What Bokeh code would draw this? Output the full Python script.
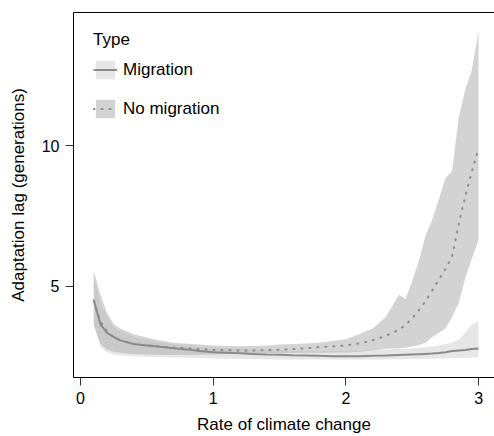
from bokeh.plotting import figure
from bokeh.models import Range1d, LinearAxis, FixedTicker, Legend, LegendItem
from bokeh.embed import file_html
from bokeh.resources import INLINE

rate = [0.10, 0.15, 0.20, 0.25, 0.30, 0.40, 0.50, 0.60, 0.70, 0.80, 0.90, 1.00,
        1.10, 1.20, 1.30, 1.40, 1.50, 1.60, 1.70, 1.80, 1.90, 2.00, 2.10, 2.20,
        2.30, 2.40, 2.45, 2.50, 2.55, 2.60, 2.65, 2.70, 2.75, 2.80, 2.85, 2.90,
        2.95, 3.00]

mig_mean = [4.50, 3.65, 3.35, 3.20, 3.08, 2.95, 2.90, 2.85, 2.80, 2.76, 2.70, 2.66,
            2.64, 2.62, 2.60, 2.58, 2.57, 2.55, 2.54, 2.53, 2.52, 2.52, 2.52, 2.53,
            2.54, 2.56, 2.57, 2.58, 2.59, 2.60, 2.61, 2.63, 2.66, 2.70, 2.72, 2.74,
            2.77, 2.79]
mig_upper = [5.30, 4.40, 3.90, 3.55, 3.40, 3.20, 3.10, 3.00, 2.94, 2.90, 2.86, 2.83,
             2.80, 2.78, 2.76, 2.74, 2.72, 2.71, 2.70, 2.70, 2.70, 2.70, 2.72, 2.74,
             2.76, 2.78, 2.78, 2.80, 2.82, 2.84, 2.86, 2.90, 2.95, 3.00, 3.10, 3.35,
             3.65, 3.76]
mig_lower = [3.70, 2.85, 2.65, 2.58, 2.55, 2.52, 2.50, 2.48, 2.47, 2.46, 2.45, 2.44,
             2.43, 2.42, 2.42, 2.41, 2.40, 2.40, 2.40, 2.40, 2.40, 2.40, 2.40, 2.40,
             2.40, 2.41, 2.41, 2.42, 2.42, 2.43, 2.43, 2.44, 2.44, 2.45, 2.45, 2.45,
             2.46, 2.47]

nomig_mean = [4.50, 3.75, 3.40, 3.20, 3.08, 2.95, 2.90, 2.86, 2.83, 2.80, 2.77, 2.74,
              2.73, 2.72, 2.72, 2.73, 2.75, 2.77, 2.80, 2.84, 2.87, 2.90, 2.97, 3.08,
              3.24, 3.46, 3.63, 3.87, 4.15, 4.47, 4.85, 5.24, 5.62, 6.06, 7.20, 8.20,
              9.10, 9.90]
nomig_upper = [5.55, 4.70, 4.05, 3.65, 3.50, 3.30, 3.18, 3.08, 3.00, 2.96, 2.93, 2.90,
               2.88, 2.87, 2.88, 2.90, 2.93, 2.95, 2.97, 3.00, 3.06, 3.12, 3.30, 3.50,
               3.90, 4.70, 4.55, 5.20, 5.90, 6.80, 7.36, 8.10, 8.85, 9.10, 11.00, 12.00,
               12.70, 14.10]
nomig_lower = [3.60, 2.95, 2.75, 2.68, 2.64, 2.60, 2.58, 2.57, 2.56, 2.56, 2.57, 2.58,
               2.60, 2.62, 2.63, 2.63, 2.63, 2.63, 2.64, 2.64, 2.65, 2.65, 2.68, 2.72,
               2.78, 2.80, 2.82, 2.86, 2.92, 3.00, 3.20, 3.35, 3.50, 3.90, 4.40, 5.30,
               6.00, 6.65]

x_ticks = [0, 1, 2, 3]
y_ticks = [5, 10]

FONT = "Liberation Sans"

p = figure(width=494, height=436, output_backend="svg", toolbar_location=None,
           x_range=Range1d(-0.053, 3.12), y_range=Range1d(1.76, 14.74),
           x_axis_location=None, y_axis_location=None,
           min_border_left=73, min_border_right=0, min_border_top=12,
           min_border_bottom=58)
p.outline_line_color = None
p.grid.visible = False
p.background_fill_color = "white"
p.border_fill_color = "white"

# bands
r_mig_band = p.varea(x=rate, y1=mig_lower, y2=mig_upper, fill_color="#b4b4b4",
                     fill_alpha=0.33)
r_nomig_band = p.varea(x=rate, y1=nomig_lower, y2=nomig_upper, fill_color="#b4b4b4",
                       fill_alpha=0.59)
r_mig_line = p.line(x=rate, y=mig_mean, line_color="#8a8a8a", line_width=2)
r_nomig_line = p.line(x=rate, y=nomig_mean, line_color="#8a8a8a", line_width=2,
                      line_dash="1 7", line_cap="round")

def style_axis(ax):
    ax.axis_line_color = "black"
    ax.axis_line_width = 1
    ax.major_tick_line_color = "#333333"
    ax.major_tick_line_width = 1
    ax.minor_tick_line_color = None
    ax.major_tick_in = 0
    ax.major_tick_out = 8
    ax.major_label_text_font = FONT
    ax.major_label_text_font_size = "16px"
    ax.major_label_text_color = "black"
    ax.axis_label_text_font = FONT
    ax.axis_label_text_font_size = "17px"
    ax.axis_label_text_font_style = "normal"
    ax.axis_label_text_color = "black"

xaxis = LinearAxis(ticker=FixedTicker(ticks=x_ticks), axis_label="Rate of climate change")
style_axis(xaxis)
xaxis.major_label_standoff = 6
xaxis.axis_label_standoff = 8
p.add_layout(xaxis, "below")

yaxis = LinearAxis(ticker=FixedTicker(ticks=y_ticks), axis_label="Adaptation lag (generations)")
style_axis(yaxis)
yaxis.major_label_standoff = 6
yaxis.axis_label_standoff = 11
yaxis.major_label_orientation = "horizontal"
p.add_layout(yaxis, "left")

top = LinearAxis(ticker=FixedTicker(ticks=[]))
top.axis_line_color = "black"
top.major_tick_line_color = None
top.minor_tick_line_color = None
top.major_label_text_font_size = "0px"
top.major_tick_out = 0
top.major_label_standoff = 0
p.add_layout(top, "above")

legend = Legend(items=[
    LegendItem(label="Migration", renderers=[r_mig_band, r_mig_line]),
    LegendItem(label="No migration", renderers=[r_nomig_band, r_nomig_line]),
], location=(20, 257))
legend.title = "Type"
legend.title_text_font = FONT
legend.title_text_font_size = "17px"
legend.title_text_font_style = "normal"
legend.title_text_color = "black"
legend.title_standoff = 8
legend.label_text_font = FONT
legend.label_text_font_size = "17px"
legend.label_text_color = "black"
legend.glyph_width = 24
legend.glyph_height = 23
legend.label_standoff = 6
legend.spacing = 16
legend.padding = 8
legend.margin = 0
legend.border_line_color = None
legend.background_fill_color = None
legend.background_fill_alpha = 0
p.add_layout(legend)

open("out.html", "w").write(file_html(p, INLINE))
